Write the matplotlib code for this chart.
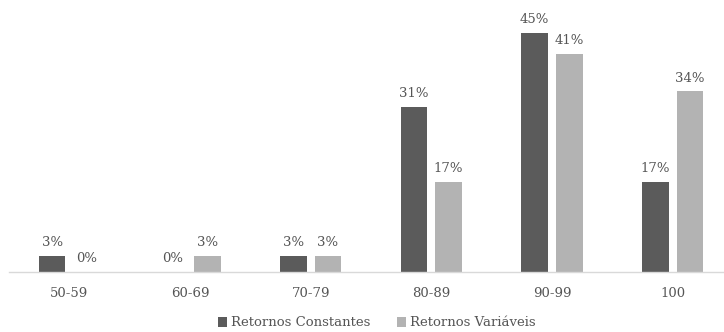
import matplotlib
matplotlib.use("Agg")
import matplotlib.pyplot as plt
import numpy as np
from matplotlib.patches import Patch

categories = ["50-59", "60-69", "70-79", "80-89", "90-99", "100"]
constantes = [3, 0, 3, 31, 45, 17]
variaveis = [0, 3, 3, 17, 41, 34]
series_names = ["Retornos Constantes", "Retornos Variáveis"]

dark = "#5b5b5b"
light = "#b3b3b3"
text_color = "#555555"

plt.rcParams["font.family"] = ["DejaVu Serif"]

fig = plt.figure(figsize=(7.24, 3.32), dpi=100)
ax = fig.add_axes([9 / 724, 60 / 332, 724 / 724, 265.5 / 332])

x = np.arange(len(categories))
w = 0.222
off = 0.143
b1 = ax.bar(x - off, constantes, w, color=dark)
b2 = ax.bar(x + off, variaveis, w, color=light)

for bars, vals in ((b1, constantes), (b2, variaveis)):
    for rect, v in zip(bars, vals):
        ax.annotate(f"{v}%", (rect.get_x() + rect.get_width() / 2, v),
                    xytext=(0, 5), textcoords="offset points",
                    ha="center", va="bottom", fontsize=9.5, color=text_color)

ax.set_xlim(-0.5, 5.5)
ax.set_ylim(0, 50)
ax.set_xticks(x)
ax.set_xticklabels(categories, fontsize=9.5, color=text_color)
ax.tick_params(axis="x", length=0, pad=11)
ax.set_yticks([])
for s in ("top", "right", "left"):
    ax.spines[s].set_visible(False)
ax.spines["bottom"].set_color("#d9d9d9")
ax.spines["bottom"].set_linewidth(1.0)

handles = [Patch(facecolor=dark), Patch(facecolor=light)]
fig.legend(handles, series_names, loc="center", bbox_to_anchor=(377 / 724, 1 - 323 / 332),
           ncol=2, frameon=False, fontsize=9.5, labelcolor=text_color,
           handlelength=0.7, handleheight=0.7, handletextpad=0.3, columnspacing=2.0)

fig.savefig("out.png", dpi=100)
